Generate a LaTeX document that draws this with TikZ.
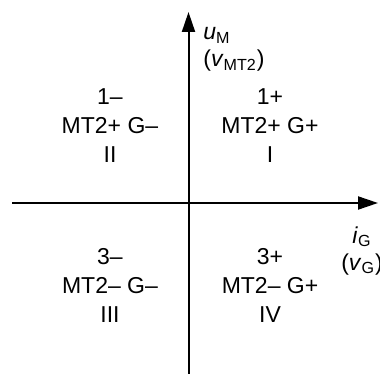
\documentclass[tikz,border=0pt]{standalone}
\usepackage{fontspec}
\setmainfont{Liberation Sans}
\usetikzlibrary{arrows.meta}

\begin{document}
\begin{tikzpicture}[x=0.5pt, y=-0.5pt,
    axis/.style={line width=1pt, -{Triangle[length=10pt, width=6.5pt]}},
    quad/.style={align=center, inner sep=0pt, font=\fontsize{11.5pt}{14.5pt}\selectfont},
    lbl/.style={align=left, inner sep=0pt, font=\fontsize{11.5pt}{13.5pt}\selectfont}]
    \useasboundingbox (0,0) rectangle (380,374);
    % 軸の端点
    \coordinate (xl) at (12,203);
    \coordinate (xr) at (378,203);
    \coordinate (yb) at (188.5,374);
    \coordinate (yt) at (188.5,12);
    \draw[axis] (xl) -- (xr);
    \draw[axis] (yb) -- (yt);
    % 象限ごとのモード
    \node[quad] (q2) at (110,126) {1--\\MT2+ G--\\II};
    \node[quad] (q1) at (270,126) {1+\\MT2+ G+\\I};
    \node[quad] (q3) at (110,285) {3--\\MT2-- G--\\III};
    \node[quad] (q4) at (270,285) {3+\\MT2-- G+\\IV};
    % 軸のラベル
    \node[lbl, anchor=north west] (ulbl) at (203,27) {\textit{u}\textsubscript{M}\\(\textit{v}\textsubscript{MT2})};
    \node[lbl, align=center, anchor=north] (ilbl) at (362,226) {\textit{i}\textsubscript{G}\\(\textit{v}\textsubscript{G})};
\end{tikzpicture}
\end{document}
